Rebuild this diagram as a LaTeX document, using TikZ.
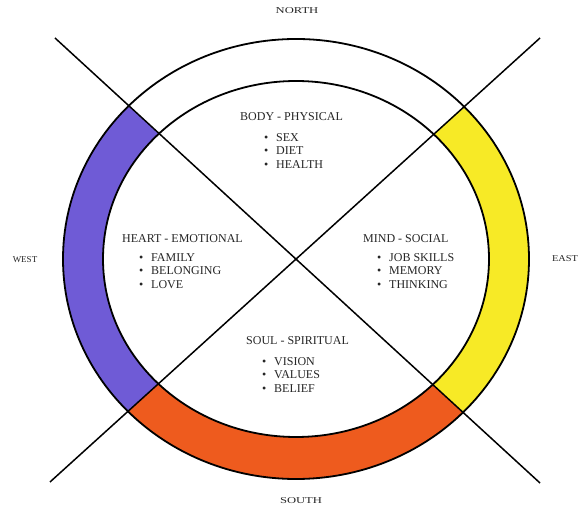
\documentclass[tikz,border=0pt]{standalone}
\usepackage{fontspec}
\setmainfont{Liberation Serif}
\usetikzlibrary{calc}
\definecolor{bandpurple}{HTML}{6F5BD6}
\definecolor{bandyellow}{HTML}{F7EA26}
\definecolor{bandorange}{HTML}{EE5B1E}
\begin{document}
\begin{tikzpicture}[x=1pt,y=-1pt,
  outline/.style={draw=black,line width=1.8pt},
  diag/.style={draw=black,line width=1.5pt},
  title/.style={anchor=west,inner sep=0pt,font=\fontsize{12}{13}\selectfont,text=black!85},
  items/.style={anchor=north west,inner sep=0pt,align=left,font=\fontsize{12}{13.5}\selectfont,text=black!85},
  compass/.style={inner sep=0pt,font=\fontsize{9}{10}\selectfont,text=black!85}]
\useasboundingbox (0,0) rectangle (582,510);
\fill[white] (0,0) rectangle (582,510);
\coordinate (C) at (296,259);
\coordinate (TL) at (55,38);
\coordinate (TR) at (540,38);
\coordinate (BL) at (50,482);
\coordinate (BR) at (540,483);
\def\ringpath{(C) ellipse [x radius=233, y radius=220] (C) ellipse [x radius=193, y radius=178]}
% coloured bands
\begin{scope}
  \clip (C) -- ($(C)!3!(TL)$) -- ($(C)!3!(BL)$) -- cycle;
  \fill[bandpurple,even odd rule] \ringpath;
\end{scope}
\begin{scope}
  \clip (C) -- ($(C)!3!(TR)$) -- ($(C)!3!(BR)$) -- cycle;
  \fill[bandyellow,even odd rule] \ringpath;
\end{scope}
\begin{scope}
  \clip (C) -- ($(C)!3!(BL)$) -- ($(C)!3!(BR)$) -- cycle;
  \fill[bandorange,even odd rule] \ringpath;
\end{scope}
% outlines
\draw[outline] (C) ellipse [x radius=233, y radius=220];
\draw[outline] (C) ellipse [x radius=193, y radius=178];
\draw[diag] (TL) -- (BR);
\draw[diag] (TR) -- (BL);
% texts
\newcommand{\bul}{\makebox[12pt][l]{•}}
\node[title] (bodyt) at (240,117) {BODY - PHYSICAL};
\node[items] (bodyl) at (264,133) {\bul SEX\\ \bul DIET\\ \bul HEALTH};
\node[title] (heartt) at (122,239) {HEART - EMOTIONAL};
\node[items] (heartl) at (139,253) {\bul FAMILY\\ \bul BELONGING\\ \bul LOVE};
\node[title] (mindt) at (363,239) {MIND - SOCIAL};
\node[items] (mindl) at (377,253) {\bul JOB SKILLS\\ \bul MEMORY\\ \bul THINKING};
\node[title] (soult) at (246,341) {SOUL - SPIRITUAL};
\node[items] (soull) at (262,357) {\bul VISION\\ \bul VALUES\\ \bul BELIEF};
\node[compass] (north) at (297,11) {\scalebox{1.4}[1]{NORTH}};
\node[compass] (south) at (301,501) {\scalebox{1.4}[1]{SOUTH}};
\node[compass] (west) at (25,260) {WEST};
\node[compass] (east) at (565,259) {\scalebox{1.15}[1]{EAST}};
\end{tikzpicture}
\end{document}
